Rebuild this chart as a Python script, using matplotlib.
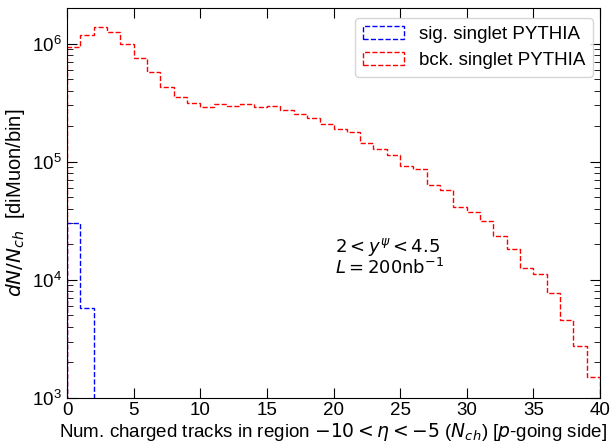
import numpy as np
import matplotlib
matplotlib.use("Agg")
import matplotlib.pyplot as plt

plt.rcParams['font.family'] = ['Liberation Sans', 'DejaVu Sans']
plt.rcParams['mathtext.fontset'] = 'dejavusans'

bin_edges = np.arange(0, 41, 1)
sig_counts = [3.0e4, 5.8e3] + [0.0] * 38
bck_counts = [9.4e5, 1.19e6, 1.39e6, 1.25e6, 9.9e5, 7.5e5, 5.7e5, 4.3e5, 3.5e5, 3.14e5,
              2.91e5, 3.09e5, 2.95e5, 3.08e5, 2.91e5, 2.96e5, 2.73e5, 2.51e5, 2.35e5, 2.08e5,
              1.91e5, 1.77e5, 1.45e5, 1.27e5, 1.13e5, 9.2e4, 8.6e4, 6.4e4, 5.8e4, 4.1e4,
              3.77e4, 3.14e4, 2.34e4, 1.82e4, 1.26e4, 1.11e4, 7.8e3, 4.6e3, 2.76e3, 1.52e3]

fig = plt.figure(figsize=(6.15, 4.44), dpi=100)
ax = fig.add_axes([0.109, 0.1036, 0.8666, 0.8784])

centers = bin_edges[:-1] + 0.5
ax.hist(centers, bins=bin_edges, weights=sig_counts, histtype='step', color='blue',
        linestyle='--', linewidth=1.0, label='sig. singlet PYTHIA')
ax.hist(centers, bins=bin_edges, weights=bck_counts, histtype='step', color='red',
        linestyle='--', linewidth=1.0, label='bck. singlet PYTHIA')

ax.set_yscale('log')
ax.set_xlim(0, 40)
ax.set_ylim(1e3, 2e6)
ax.set_xticks(np.arange(0, 41, 5))
ax.tick_params(which='both', direction='in', top=True, right=True, labelsize=13.5)
ax.tick_params(which='major', length=7)
ax.tick_params(which='minor', length=4)
ax.tick_params(axis='x', pad=3)

ax.set_xlabel(r'Num. charged tracks in region $-10 < \eta < -5$ ($N_{ch}$) [$p$-going side]',
              fontsize=13.5, labelpad=1)
ax.set_ylabel(r'$dN/N_{ch}$  [diMuon/bin]', fontsize=14.5)

ax.text(20.1, 1.72e4, r'$2 < y^{\psi} < 4.5$', fontsize=13)
ax.text(20.1, 1.13e4, r'$L = 200\mathrm{nb}^{-1}$', fontsize=13)

ax.legend(loc='upper right', bbox_to_anchor=(0.987, 0.974), borderaxespad=0,
          fontsize=13.5, handlelength=2.2)

fig.savefig('out.png', dpi=100)
